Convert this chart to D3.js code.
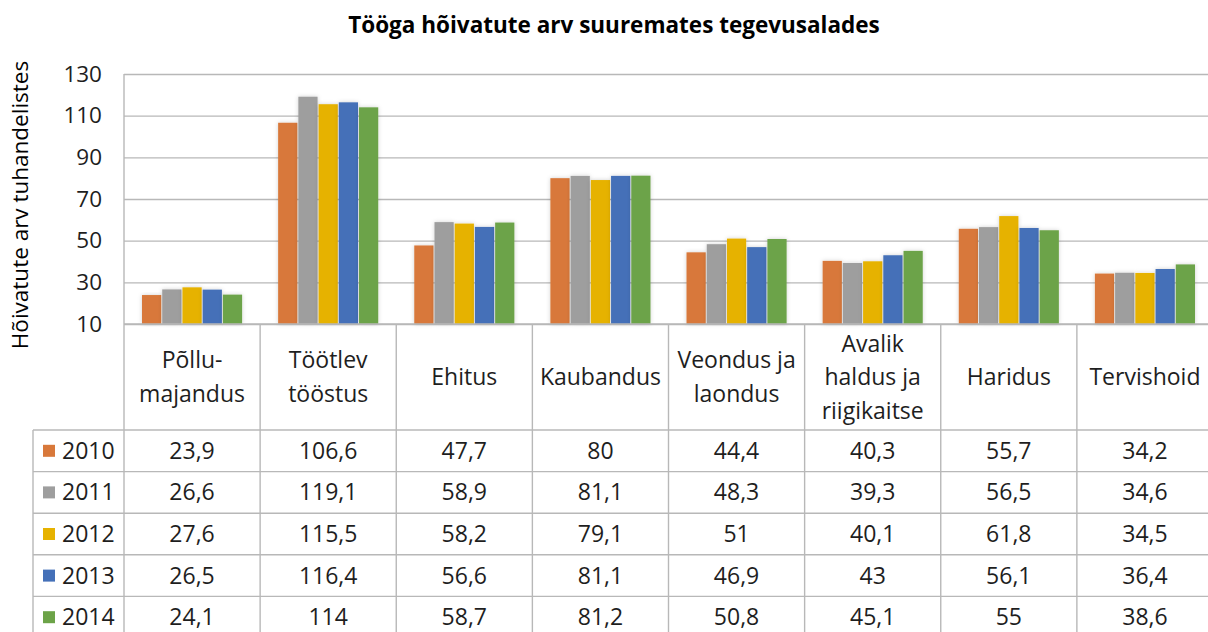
<!DOCTYPE html>
<html><head><meta charset="utf-8">
<script src="https://cdn.jsdelivr.net/npm/d3@7"></script>
<style>
html,body{margin:0;padding:0;background:#fff;}
svg{display:block;font-family:"Open Sans",sans-serif;}
</style></head>
<body>
<svg id="chart" width="1208" height="632"></svg>
<script>
const title = "Tööga hõivatute arv suuremates tegevusalades";
const yTitle = "Hõivatute arv tuhandelistes";
const categories = [["Põllu-","majandus"],["Töötlev","tööstus"],["Ehitus"],["Kaubandus"],["Veondus ja","laondus"],["Avalik","haldus ja","riigikaitse"],["Haridus"],["Tervishoid"]];
const years = ["2010","2011","2012","2013","2014"];
const colors = ["#D8783A","#9E9E9E","#E6B200","#4470B8","#6CA348"];
const v2010 = [23.9,106.6,47.7,80,44.4,40.3,55.7,34.2];
const v2011 = [26.6,119.1,58.9,81.1,48.3,39.3,56.5,34.6];
const v2012 = [27.6,115.5,58.2,79.1,51,40.1,61.8,34.5];
const v2013 = [26.5,116.4,56.6,81.1,46.9,43,56.1,36.4];
const v2014 = [24.1,114,58.7,81.2,50.8,45.1,55,38.6];
const seriesValues = [v2010,v2011,v2012,v2013,v2014];
const yTicks = [10,30,50,70,90,110,130];

(function(){
const svg = d3.select("#chart");
const pl = 124, pr = 1213, pt = 74, base = 324;
const headerH = 106, rowH = 41.6, legendLeft = 33;
const gridColor = "#B8B8B8", textColor = "#1E1E1E";
const fs = 23;

const catIdx = d3.range(categories.length);
const x0 = d3.scaleBand().domain(catIdx).range([pl, pr]).padding(0);
const x1 = d3.scaleBand().domain(d3.range(years.length)).range([17, x0.bandwidth()-17]).padding(0.05);
const y = d3.scaleLinear().domain([10,130]).range([base, pt]);

const defs = svg.append("defs");
const f = defs.append("filter").attr("id","sh").attr("x","-30%").attr("y","-10%").attr("width","160%").attr("height","120%");
f.append("feDropShadow").attr("dx",0).attr("dy",0).attr("stdDeviation",2).attr("flood-color","#000").attr("flood-opacity",0.18);

svg.append("text").attr("x",614).attr("y",33).attr("text-anchor","middle")
  .attr("font-weight","bold").attr("font-size",22.5).attr("fill","#000").text(title);

svg.append("text").attr("transform",`translate(28,${(pt+base)/2+6}) rotate(-90)`)
  .attr("text-anchor","middle").attr("font-size",22.5).attr("fill","#000").text(yTitle);

const grid = svg.append("g").attr("transform",`translate(${pl},0)`)
  .call(d3.axisRight(y).tickValues(yTicks).tickSize(pr-pl).tickFormat(""));
grid.select(".domain").remove();
grid.selectAll("line").attr("stroke",gridColor).attr("stroke-width",1.4);

const ya = svg.append("g").attr("transform",`translate(${pl},0)`)
  .call(d3.axisLeft(y).tickValues(yTicks).tickSize(0).tickPadding(22));
ya.select(".domain").remove();
ya.selectAll("text").attr("font-size",22.5).attr("font-family","Open Sans").attr("fill",textColor);

const gBars = svg.append("g");
seriesValues.forEach((vals, si) => {
  gBars.selectAll(null).data(vals).join("rect")
    .attr("x",(d,i)=>x0(i)+x1(si))
    .attr("y",d=>y(d))
    .attr("width",x1.bandwidth())
    .attr("height",d=>y(10)-y(d))
    .attr("fill",colors[si])
    .attr("filter","url(#sh)");
});

const tbl = svg.append("g");
const tableBottom = base + headerH + rowH*years.length;
catIdx.forEach(i => {
  tbl.append("line").attr("x1",x0(i)).attr("x2",x0(i)).attr("y1",i===0?pt:base).attr("y2",tableBottom)
    .attr("stroke",gridColor).attr("stroke-width",1.4);
});
tbl.append("line").attr("x1",pr).attr("x2",pr).attr("y1",base).attr("y2",tableBottom).attr("stroke",gridColor).attr("stroke-width",1.4);
tbl.append("line").attr("x1",legendLeft).attr("x2",legendLeft).attr("y1",base+headerH).attr("y2",tableBottom).attr("stroke",gridColor).attr("stroke-width",1.4);
tbl.append("line").attr("x1",pl).attr("x2",pr).attr("y1",base).attr("y2",base).attr("stroke",gridColor).attr("stroke-width",1.4);
d3.range(years.length+1).forEach(r => {
  const yy = base+headerH+r*rowH;
  tbl.append("line").attr("x1",legendLeft).attr("x2",pr).attr("y1",yy).attr("y2",yy).attr("stroke",gridColor).attr("stroke-width",1.4);
});

categories.forEach((lines,i) => {
  const cx = x0(i)+x0.bandwidth()/2;
  const lh = 33.5;
  const cy = base + headerH/2;
  lines.forEach((ln,j) => {
    tbl.append("text").attr("x",cx).attr("y",cy + (j-(lines.length-1)/2)*lh)
      .attr("dy","0.35em").attr("text-anchor","middle").attr("font-size",fs).attr("fill",textColor).text(ln);
  });
});

const fmt = d => String(d).replace(".",",");
years.forEach((yr,si) => {
  const cy = base+headerH+si*rowH+rowH/2;
  tbl.append("rect").attr("x",43).attr("y",cy-6).attr("width",12).attr("height",12).attr("fill",colors[si]);
  tbl.append("text").attr("x",62).attr("y",cy).attr("dy","0.35em").attr("font-size",fs).attr("fill",textColor).text(yr);
  seriesValues[si].forEach((v,i) => {
    tbl.append("text").attr("x",x0(i)+x0.bandwidth()/2).attr("y",cy).attr("dy","0.35em")
      .attr("text-anchor","middle").attr("font-size",fs).attr("fill",textColor).text(fmt(v));
  });
});
})();
</script>
</body></html>
